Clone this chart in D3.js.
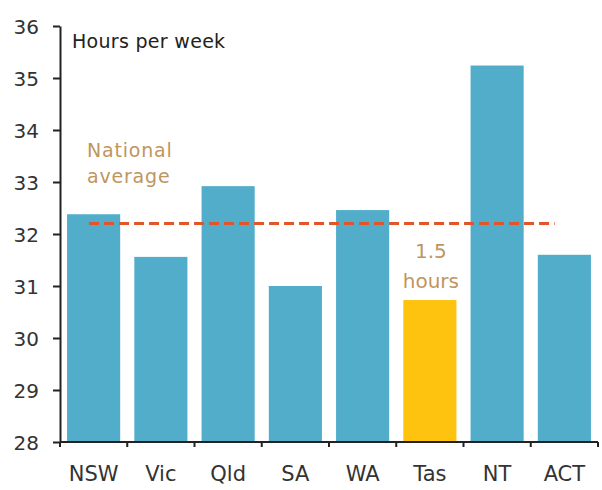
<!DOCTYPE html>
<html>
<head>
<meta charset="utf-8">
<script src="https://cdn.jsdelivr.net/npm/d3@7"></script>
<style>
  body { margin: 0; background: #fff; }
  svg text { font-family: "DejaVu Sans", "Noto Sans", sans-serif; }
</style>
</head>
<body>
<svg id="chart" width="602" height="490"></svg>
<script>
// states and average hours worked per week
var states = ["NSW", "Vic", "Qld", "SA", "WA", "Tas", "NT", "ACT"];
var hours = [32.38, 31.56, 32.92, 31.0, 32.46, 30.73, 35.24, 31.6];
var highlight = "Tas";
var nationalAvg = 32.2;
var yTicks = [28, 29, 30, 31, 32, 33, 34, 35, 36];

var svg = d3.select("#chart");
var margin = {top: 26, right: 4, bottom: 48, left: 60};
var width = 602, height = 490;

var x = d3.scaleBand()
  .domain(states)
  .range([margin.left, width - margin.right])
  .paddingInner(0.21)
  .paddingOuter(0.105);

var y = d3.scaleLinear()
  .domain([28, 36])
  .range([height - margin.bottom, margin.top]);

// bars
svg.append("g").selectAll("rect")
  .data(states)
  .enter().append("rect")
  .attr("x", function(d) { return x(d); })
  .attr("y", function(d, i) { return y(hours[i]); })
  .attr("width", x.bandwidth())
  .attr("height", function(d, i) { return y(28) - y(hours[i]); })
  .attr("fill", function(d) { return d == highlight ? "#fdc30f" : "#52adcb"; });

// national average dashed line
var avgX0 = x("NSW") + 22, avgX1 = x("NT") + x.bandwidth() + 31;
svg.append("line")
  .attr("x1", avgX0).attr("x2", avgX1)
  .attr("y1", y(nationalAvg)).attr("y2", y(nationalAvg))
  .attr("stroke", "#e2542a")
  .attr("stroke-width", 3)
  .attr("stroke-dasharray", "10,5");

// y axis
var yAxis = svg.append("g")
  .attr("transform", "translate(" + margin.left + ",0)")
  .call(d3.axisLeft(y).tickValues(yTicks).tickSize(7).tickSizeOuter(0).tickPadding(14));
yAxis.select(".domain").attr("stroke", "#222").attr("stroke-width", 2);
yAxis.selectAll(".tick line").attr("stroke", "#222").attr("stroke-width", 2);
yAxis.selectAll("text").attr("font-size", 20).attr("fill", "#333").attr("dy", "0.35em");

// x axis with ticks at band boundaries
var xAxisG = svg.append("g")
  .attr("transform", "translate(0," + y(28) + ")");
xAxisG.append("line")
  .attr("x1", margin.left).attr("x2", width - margin.right)
  .attr("stroke", "#222").attr("stroke-width", 2);
var step = x.step();
var bounds = d3.range(states.length + 1).map(function(i) { return margin.left + i * step; });
xAxisG.selectAll(".bt").data(bounds).enter().append("line")
  .attr("x1", function(d) { return d; }).attr("x2", function(d) { return d; })
  .attr("y1", 0).attr("y2", 5)
  .attr("stroke", "#222").attr("stroke-width", 2);
xAxisG.selectAll("text").data(states).enter().append("text")
  .attr("x", function(d) { return x(d) + x.bandwidth() / 2; })
  .attr("y", 39)
  .attr("text-anchor", "middle")
  .attr("font-size", 21)
  .attr("fill", "#333")
  .text(function(d) { return d; });

// labels
svg.append("text")
  .attr("x", 72).attr("y", 48)
  .attr("font-size", 19).attr("fill", "#222")
  .attr("letter-spacing", 0.3)
  .text("Hours per week");

var tan = "#bf955f";
svg.append("text").attr("x", 87).attr("y", 157)
  .attr("font-size", 19).attr("fill", tan).attr("letter-spacing", 0.8).text("National");
svg.append("text").attr("x", 87).attr("y", 183)
  .attr("font-size", 19).attr("fill", tan).attr("letter-spacing", 0.8).text("average");

var tasX = x(highlight) + x.bandwidth() / 2;
svg.append("text").attr("x", tasX + 1).attr("y", 258)
  .attr("text-anchor", "middle")
  .attr("font-size", 20).attr("fill", tan).text("1.5");
svg.append("text").attr("x", tasX + 1).attr("y", 288)
  .attr("text-anchor", "middle")
  .attr("font-size", 20).attr("fill", tan).text("hours");
</script>
</body>
</html>
